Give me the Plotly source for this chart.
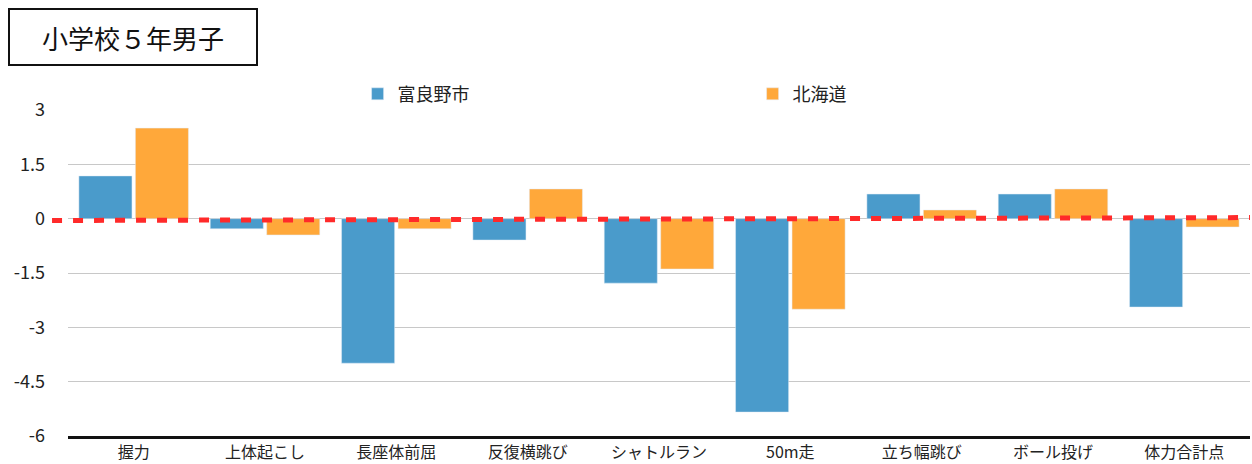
import plotly.graph_objects as go

categories = ["握力", "上体起こし", "長座体前屈", "反復横跳び", "シャトルラン", "50m走", "立ち幅跳び", "ボール投げ", "体力合計点"]
furano = [1.18, -0.28, -3.99, -0.59, -1.78, -5.34, 0.68, 0.68, -2.44]
hokkaido = [2.5, -0.45, -0.28, 0.82, -1.39, -2.50, 0.24, 0.82, -0.23]
series_names = ["富良野市", "北海道"]
y_ticks = [3, 1.5, 0, -1.5, -3, -4.5, -6]
y_tick_labels = ["3", "1.5", "0", "-1.5", "-3", "-4.5", "-6"]
reference_line = [-0.05, 0.03]
title_text = "小学校５年男子"

FONT = "Noto Sans CJK JP"

fig = go.Figure()
fig.add_trace(go.Bar(x=categories, y=furano, name=series_names[0], marker_color="#4a9bcb"))
fig.add_trace(go.Bar(x=categories, y=hokkaido, name=series_names[1], marker_color="#ffa83a"))

fig.add_shape(type="line", xref="paper", yref="y", x0=-0.0135, x1=1.0,
              y0=reference_line[0], y1=reference_line[1],
              line=dict(color="#ff2a2a", width=5, dash="10px,11px"), layer="above")

fig.add_annotation(text=title_text, xref="paper", yref="paper", x=-0.0508, y=1.313,
                   xanchor="left", yanchor="top", showarrow=False,
                   font=dict(family=FONT, size=26, color="#111111"),
                   bordercolor="#111111", borderwidth=2, borderpad=0,
                   width=246, height=54, align="center", valign="middle")

fig.update_layout(
    width=1252, height=464,
    margin=dict(l=68, r=2, t=110, b=28),
    paper_bgcolor="white", plot_bgcolor="white",
    font=dict(family=FONT, size=16, color="#222222"),
    barmode="group", bargap=0.14, bargroupgap=0.06,
    legend=dict(orientation="h", x=0.245, y=0.992, xanchor="left", yanchor="bottom",
                entrywidth=350, entrywidthmode="pixels",
                font=dict(family=FONT, size=18, color="#222222"),
                bgcolor="rgba(0,0,0,0)"),
    showlegend=True,
)
fig.update_yaxes(range=[-6, 3], tickvals=y_ticks, ticktext=y_tick_labels,
                 showgrid=True, gridcolor="#c8c8c8", gridwidth=1,
                 zeroline=True, zerolinecolor="#c8c8c8", zerolinewidth=1,
                 ticks="", ticklabelstandoff=22,
                 tickfont=dict(family=FONT, size=18, color="#222222"))
fig.update_xaxes(showline=True, linecolor="#111111", linewidth=3, ticks="",
                 tickfont=dict(family=FONT, size=16, color="#222222"))

fig.write_html("out.html", config={"displayModeBar": False})

with open("out.html", "r", encoding="utf-8") as f:
    html = f.read()
html = html.replace("<body>", '<body style="margin:0;padding:0;overflow:hidden">', 1)
html = html.replace("<head>", '<head><style>html,body{margin:0;padding:0;}</style>', 1)
with open("out.html", "w", encoding="utf-8") as f:
    f.write(html)
